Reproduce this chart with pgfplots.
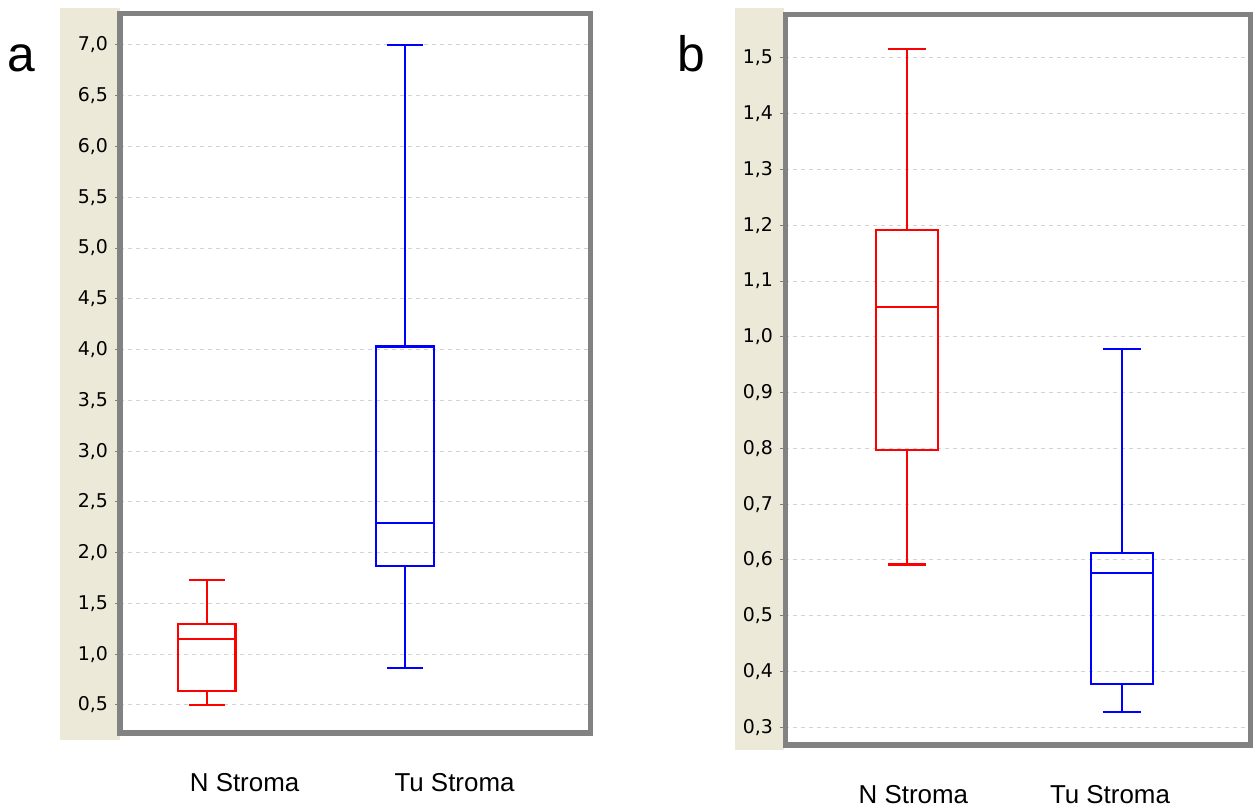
\documentclass[border=0pt]{standalone}
\usepackage{fontspec}
\setmainfont{Liberation Sans}
\newfontfamily\tickfont{DejaVu Sans}
\usepackage{pgfplots}
\pgfplotsset{compat=1.18}
\usepgfplotslibrary{statistics}
\definecolor{framegray}{HTML}{828282}
\definecolor{strip}{HTML}{ECE9D8}

\pgfplotsset{
  panel/.style={
    scale only axis, anchor=south west,
    axis line style={draw=framegray, line width=2.5bp},
    ymajorgrids, grid style={dash pattern=on 2bp off 2bp, gray!35, line width=0.5bp},
    xtick style={draw=none}, ytick style={gray, line width=0.5bp},
    major tick length=2.5bp, tick align=outside,
    xtick pos=bottom, ytick pos=left,
    yticklabel style={font=\tickfont\fontsize{9.5}{11}\selectfont,
      /pgf/number format/.cd, fixed, fixed zerofill, precision=1, use comma, assume math mode=true},
    xticklabel style={font=\fontsize{13}{15}\selectfont, yshift=-14bp},
    boxplot/draw direction=y,
    boxplot/box extend=0.29, boxplot/whisker extend=0.18,
  },
}

\begin{document}
\begin{tikzpicture}
\path[fill=white, use as bounding box] (0,0) rectangle (628bp,404bp);
% beige strips behind the y tick labels
\fill[strip] (30bp,34bp) rectangle (60bp,400bp);
\fill[strip] (367.5bp,29bp) rectangle (392bp,400bp);

\node[font=\fontsize{25}{30}\selectfont, anchor=base] at (10.5bp,368bp) {a};
\node[font=\fontsize{25}{30}\selectfont, anchor=base] at (345.5bp,368bp) {b};

% panel a
\begin{axis}[panel, at={(60bp,37.5bp)}, width=235bp, height=360bp,
    xmin=0.561, xmax=2.934, ymin=0.224, ymax=7.315,
    ytick={0.5,1,...,7},
    xtick={1.19,2.25}, xticklabels={N Stroma, Tu Stroma}]
\addplot[red, line width=1.2bp, boxplot prepared={draw position=1,
    lower whisker=0.5, lower quartile=0.638, median=1.15,
    upper quartile=1.30, upper whisker=1.73}] coordinates {};
\addplot[blue, line width=1.2bp, boxplot prepared={draw position=2,
    lower whisker=0.865, lower quartile=1.87, median=2.29,
    upper quartile=4.03, upper whisker=7.0}] coordinates {};
\end{axis}

% panel b
\begin{axis}[panel, at={(392.5bp,31.5bp)}, width=232.5bp, height=365bp,
    xmin=0.433, xmax=2.595, ymin=0.268, ymax=1.577,
    ytick={0.3,0.4,...,1.5},
    xtick={1.03,1.944}, xticklabels={N Stroma, Tu Stroma}]
\addplot[red, line width=1.2bp, boxplot prepared={draw position=1,
    lower whisker=0.592, lower quartile=0.797, median=1.053,
    upper quartile=1.191, upper whisker=1.516}] coordinates {};
\addplot[blue, line width=1.2bp, boxplot prepared={draw position=2,
    lower whisker=0.327, lower quartile=0.377, median=0.576,
    upper quartile=0.612, upper whisker=0.978}] coordinates {};
\end{axis}
\end{tikzpicture}
\end{document}
